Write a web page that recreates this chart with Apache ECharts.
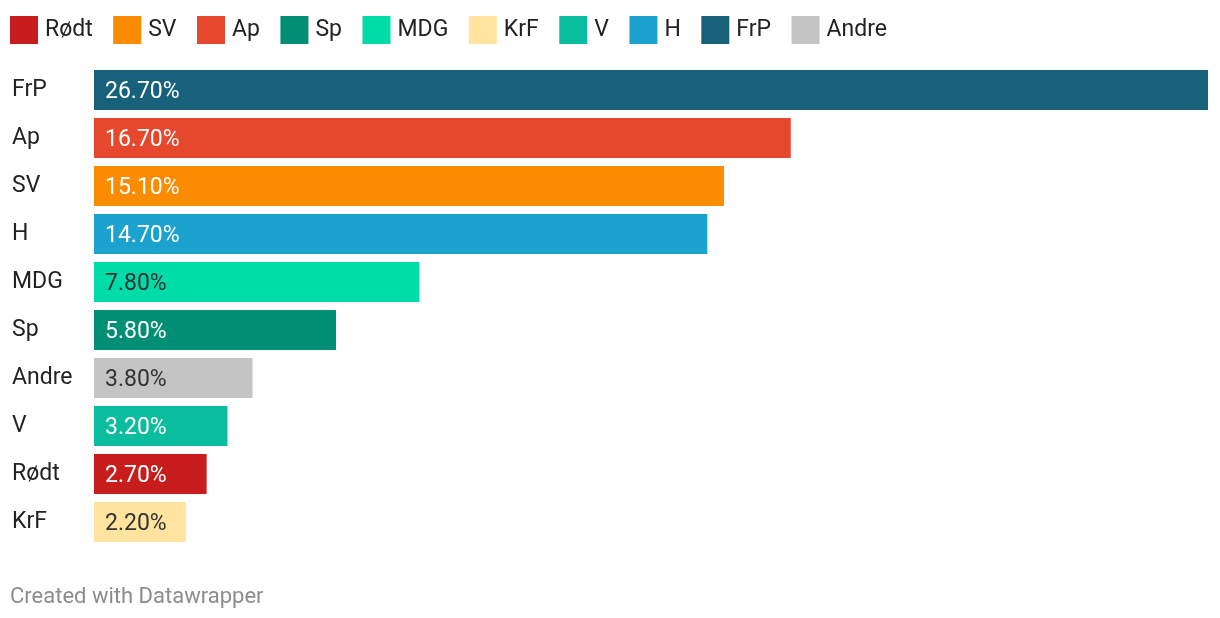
<!DOCTYPE html>
<html>
<head>
<meta charset="utf-8">
<script src="https://cdn.jsdelivr.net/npm/echarts@6/dist/echarts.min.js"></script>
<style>
html,body{margin:0;padding:0;background:#fff;}
#c{width:1220px;height:618px;}
</style>
</head>
<body>
<div id="c"></div>
<script>
const categories = ["FrP", "Ap", "SV", "H", "MDG", "Sp", "Andre", "V", "Rødt", "KrF"];
const values = [26.7, 16.7, 15.1, 14.7, 7.8, 5.8, 3.8, 3.2, 2.7, 2.2];
const legendOrder = ["Rødt", "SV", "Ap", "Sp", "MDG", "KrF", "V", "H", "FrP", "Andre"];
const colors = {
  "Rødt": "#c71e1d", "SV": "#fb8b00", "Ap": "#e5482d", "Sp": "#008e74", "MDG": "#00dca8",
  "KrF": "#ffe39e", "V": "#0bbd9f", "H": "#1ba2cf", "FrP": "#17617b", "Andre": "#c4c4c4"
};
const darkLabel = ["MDG", "Andre", "KrF"];

const series = legendOrder.map(name => ({
  name: name,
  type: 'bar',
  stack: 'all',
  barCategoryGap: '16.7%',
  itemStyle: { color: colors[name] },
  label: {
    show: true,
    position: 'insideLeft',
    distance: 11,
    offset: [0, 2],
    fontFamily: 'Roboto',
    fontSize: 23,
    color: darkLabel.includes(name) ? '#333333' : '#ffffff',
    formatter: p => p.value.toFixed(2) + '%'
  },
  data: categories.map((c, i) => c === name ? values[i] : '-')
}));

const chart = echarts.init(document.getElementById('c'));
chart.setOption({
  animation: false,
  backgroundColor: '#ffffff',
  legend: {
    data: legendOrder,
    left: 5, top: 11,
    icon: 'rect',
    itemWidth: 28, itemHeight: 28,
    itemGap: 20.5,
    textStyle: { fontFamily: 'Roboto', fontSize: 23, color: '#222222', padding: [0, 0, 0, 2] },
    selectedMode: false
  },
  grid: { left: 94, right: 12, top: 66, height: 480, containLabel: false },
  xAxis: { type: 'value', min: 0, max: 26.7, show: false },
  yAxis: {
    type: 'category',
    data: categories,
    inverse: true,
    axisLine: { show: false },
    axisTick: { show: false },
    axisLabel: {
      align: 'left', margin: 82,
      fontFamily: 'Roboto', fontSize: 23, color: '#222222',
      verticalAlign: 'middle', padding: [0, 0, 4, 0]
    }
  },
  series: series,
  graphic: [{
    type: 'text', left: 10, top: 586,
    style: { text: 'Created with Datawrapper', fontFamily: 'Roboto', fontSize: 22, fill: '#8c8c8c' }
  }]
});
</script>
</body>
</html>
